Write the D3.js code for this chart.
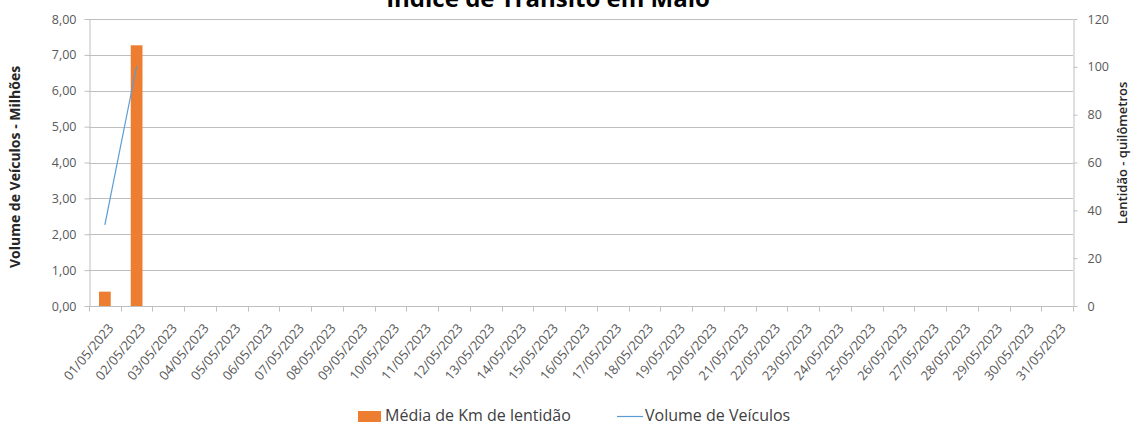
<!DOCTYPE html>
<html>
<head>
<meta charset="utf-8">
<script src="https://cdn.jsdelivr.net/npm/d3@7"></script>
<style>
  body { margin: 0; background: #fff; }
  svg { font-family: "Open Sans", sans-serif; }
</style>
</head>
<body>
<svg width="1132" height="426"></svg>
<script>
const dias = [
  '01/05/2023', '02/05/2023', '03/05/2023', '04/05/2023', '05/05/2023', '06/05/2023',
  '07/05/2023', '08/05/2023', '09/05/2023', '10/05/2023', '11/05/2023', '12/05/2023',
  '13/05/2023', '14/05/2023', '15/05/2023', '16/05/2023', '17/05/2023', '18/05/2023',
  '19/05/2023', '20/05/2023', '21/05/2023', '22/05/2023', '23/05/2023', '24/05/2023',
  '25/05/2023', '26/05/2023', '27/05/2023', '28/05/2023', '29/05/2023', '30/05/2023',
  '31/05/2023'
];
// km de lentidao (eixo direito) - so os dois primeiros dias tem dado
const lentidao = [6, 109];
// volume de veiculos em milhoes (eixo esquerdo)
const volume = [2.26, 6.69];

const ticksEsq = [0, 1, 2, 3, 4, 5, 6, 7, 8];
const ticksDir = [0, 20, 40, 60, 80, 100, 120];

const svg = d3.select('svg');
const fmt = d => d.toFixed(2).replace('.', ',');

const x = d3.scaleBand()
    .domain(dias)
    .range([89, 1073])
    .paddingInner(0.63)
    .paddingOuter(0.315);

const yL = d3.scaleLinear().domain([0, 8]).range([306, 19]);
const yR = d3.scaleLinear().domain([0, 120]).range([306, 19]);

// gridlines
svg.append('g')
    .selectAll('line')
    .data(ticksEsq)
    .enter()
    .append('line')
    .attr('x1', 89).attr('x2', 1073)
    .attr('y1', d => Math.round(yL(d)) + 0.5)
    .attr('y2', d => Math.round(yL(d)) + 0.5)
    .attr('stroke', '#bfbfbf');

// eixo esquerdo
const axL = svg.append('g')
    .attr('transform', 'translate(89.5,0)')
    .call(d3.axisLeft(yL).tickValues(ticksEsq).tickFormat(fmt).tickSize(5).tickSizeOuter(0));

// eixo direito
const axR = svg.append('g')
    .attr('transform', 'translate(1073.5,0)')
    .call(d3.axisRight(yR).tickValues(ticksDir).tickSize(4).tickSizeOuter(0));

// eixo x
const step = x.step();
const axX = svg.append('g')
    .attr('transform', 'translate(0,306.5)');
axX.append('line')
    .attr('x1', 89).attr('x2', 1073)
    .attr('stroke', '#bfbfbf');
axX.selectAll('.tk')
    .data(dias.concat(['fim']))
    .enter()
    .append('line')
    .attr('class', 'tk')
    .attr('x1', (d, i) => Math.round(89 + i * step) + 0.5)
    .attr('x2', (d, i) => Math.round(89 + i * step) + 0.5)
    .attr('y1', 0).attr('y2', 5)
    .attr('stroke', '#bfbfbf');
axX.selectAll('text')
    .data(dias)
    .enter()
    .append('text')
    .attr('transform', d => `translate(${x(d) + x.bandwidth() / 2 + 6},${19}) rotate(-50)`)
    .attr('text-anchor', 'end')
    .attr('dy', '0.35em')
    .attr('font-size', 13)
    .attr('fill', '#595959')
    .text(d => d);

[axL, axR].forEach(ax => {
    ax.select('.domain').attr('stroke', '#bfbfbf');
    ax.selectAll('.tick line').attr('stroke', '#bfbfbf');
    ax.selectAll('.tick text')
        .attr('font-size', 12.5)
        .attr('font-family', '"Open Sans", sans-serif')
        .attr('fill', '#595959');
});
axL.selectAll('.tick text').attr('x', -13);
axR.selectAll('.tick text').attr('x', 14);

// barras
svg.selectAll('rect.barra')
    .data(lentidao)
    .enter()
    .append('rect')
    .attr('class', 'barra')
    .attr('x', (d, i) => x(dias[i]))
    .attr('width', x.bandwidth())
    .attr('y', d => yR(d))
    .attr('height', d => yR(0) - yR(d))
    .attr('fill', '#ED7D31');

// linha
const line = d3.line()
    .x((d, i) => x(dias[i]) + x.bandwidth() / 2)
    .y(d => yL(d));

svg.append('path')
    .datum(volume)
    .attr('d', line)
    .attr('fill', 'none')
    .attr('stroke', '#5B9BD5')
    .attr('stroke-width', 1.2);

// titulo
svg.append('text')
    .attr('x', 548)
    .attr('y', 7)
    .attr('text-anchor', 'middle')
    .attr('font-size', 24)
    .attr('font-weight', 'bold')
    .attr('fill', '#000')
    .text('Índice de Trânsito em Maio');

// titulos dos eixos
svg.append('text')
    .attr('transform', 'translate(20,167) rotate(-90)')
    .attr('text-anchor', 'middle')
    .attr('font-size', 14)
    .attr('font-weight', 'bold')
    .attr('fill', '#262626')
    .text('Volume de Veículos  - Milhões');

svg.append('text')
    .attr('transform', 'translate(1127,153) rotate(-90)')
    .attr('text-anchor', 'middle')
    .attr('font-size', 13)
    .attr('font-weight', 600)
    .attr('fill', '#262626')
    .text('Lentidão - quilômetros');

// legenda
const leg = svg.append('g');
leg.append('rect')
    .attr('x', 358).attr('y', 411)
    .attr('width', 23).attr('height', 11)
    .attr('fill', '#ED7D31');
leg.append('text')
    .attr('x', 385).attr('y', 421)
    .attr('font-size', 16)
    .attr('fill', '#404040')
    .text('Média de Km de lentidão');
leg.append('line')
    .attr('x1', 617).attr('x2', 643)
    .attr('y1', 416.5).attr('y2', 416.5)
    .attr('stroke', '#5B9BD5')
    .attr('stroke-width', 1.2);
leg.append('text')
    .attr('x', 645).attr('y', 421)
    .attr('font-size', 16)
    .attr('fill', '#404040')
    .text('Volume de Veículos');
</script>
</body>
</html>
